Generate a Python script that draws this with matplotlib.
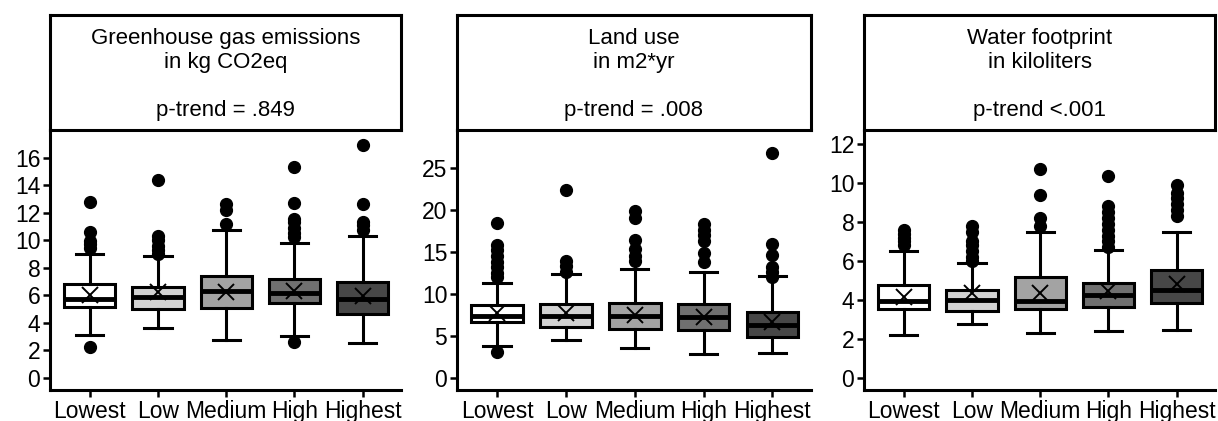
import numpy as np
import matplotlib
matplotlib.use("Agg")
import matplotlib.pyplot as plt

plt.rcParams['font.family'] = ['Liberation Sans', 'DejaVu Sans']

categories = ['Lowest', 'Low', 'Medium', 'High', 'Highest']
box_colors = ['#ffffff', '#d2d2d2', '#a3a3a3', '#707070', '#474747']

titles = ['Greenhouse gas emissions\nin kg CO2eq', 'Land use\nin m2*yr', 'Water footprint\nin kiloliters']
ptrends = ['p-trend = .849', 'p-trend = .008', 'p-trend <.001']

# per panel: q1, median, q3, lower whisker, upper whisker, mean
ghg_q1 = [5.1, 5.0, 5.05, 5.45, 4.6]
ghg_med = [5.7, 5.85, 6.3, 6.15, 5.7]
ghg_q3 = [6.8, 6.6, 7.4, 7.2, 6.95]
ghg_lo = [3.1, 3.6, 2.75, 3.05, 2.5]
ghg_hi = [8.95, 8.85, 10.75, 9.75, 10.3]
ghg_mean = [6.0, 6.2, 6.25, 6.3, 5.95]
ghg_out = [[2.2, 9.4, 9.7, 9.9, 10.6, 12.8],
           [9.0, 9.3, 9.6, 10.0, 10.3, 14.4],
           [11.2, 12.2, 12.6],
           [2.6, 10.2, 10.5, 10.9, 11.3, 11.5, 12.7, 15.3],
           [10.7, 11.1, 11.3, 12.6, 16.9]]

land_q1 = [6.6, 6.0, 5.85, 5.7, 4.8]
land_med = [7.4, 7.35, 7.4, 7.25, 6.25]
land_q3 = [8.65, 8.75, 8.9, 8.8, 7.85]
land_lo = [3.75, 4.45, 3.5, 2.8, 3.0]
land_hi = [11.3, 12.4, 12.9, 12.6, 12.15]
land_mean = [7.7, 7.7, 7.5, 7.25, 6.6]
land_out = [[3.1, 12.0, 12.5, 13.2, 13.8, 14.5, 15.2, 15.8, 18.4],
            [12.6, 13.3, 13.9, 22.4],
            [13.9, 14.5, 15.3, 16.4, 19.0, 19.8],
            [13.8, 14.8, 16.3, 17.0, 17.6, 18.3],
            [12.0, 12.6, 13.2, 14.6, 15.9, 26.8]]

water_q1 = [3.55, 3.45, 3.55, 3.65, 3.85]
water_med = [3.95, 4.0, 3.95, 4.25, 4.5]
water_q3 = [4.75, 4.5, 5.2, 4.85, 5.55]
water_lo = [2.2, 2.8, 2.3, 2.4, 2.45]
water_hi = [6.5, 5.9, 7.5, 6.55, 7.5]
water_mean = [4.15, 4.35, 4.35, 4.45, 4.8]
water_out = [[6.8, 7.0, 7.2, 7.4, 7.6],
             [6.0, 6.2, 6.5, 6.8, 7.0, 7.5, 7.8],
             [7.8, 8.2, 9.4, 10.7],
             [6.7, 7.0, 7.3, 7.6, 7.9, 8.2, 8.5, 8.8, 10.35],
             [8.3, 8.6, 8.9, 9.2, 9.5, 9.9]]

panels = [
    (ghg_q1, ghg_med, ghg_q3, ghg_lo, ghg_hi, ghg_mean, ghg_out),
    (land_q1, land_med, land_q3, land_lo, land_hi, land_mean, land_out),
    (water_q1, water_med, water_q3, water_lo, water_hi, water_mean, water_out),
]
yticks = [np.arange(0, 17, 2), np.arange(0, 26, 5), np.arange(0, 13, 2)]
ylims = [(-0.9, 18.0), (-1.45, 29.5), (-0.6, 12.7)]

W, H = 1218, 421
fig = plt.figure(figsize=(W / 100, H / 100), dpi=100)

# panel pixel extents (left, right)
extents = [(50, 401), (457, 811), (864, 1215)]
ax_top, ax_bot, head_top = 130, 390, 15

for k, (x0, x1) in enumerate(extents):
    q1, med, q3, lo, hi, mean, out = panels[k]
    ax = fig.add_axes([x0 / W, (H - ax_bot) / H, (x1 - x0) / W, (ax_bot - ax_top) / H])
    stats = []
    for i in range(len(categories)):
        stats.append(dict(q1=q1[i], med=med[i], q3=q3[i], whislo=lo[i], whishi=hi[i],
                          mean=mean[i], fliers=out[i], label=categories[i]))
    bp = ax.bxp(stats, positions=range(1, 6), widths=0.75, capwidths=0.4,
                patch_artist=True, showmeans=True,
                boxprops=dict(linewidth=2.2, edgecolor='black'),
                medianprops=dict(color='black', linewidth=3.5),
                whiskerprops=dict(color='black', linewidth=2.2),
                capprops=dict(color='black', linewidth=2.2),
                meanprops=dict(marker='x', markeredgecolor='black', markersize=12,
                               markeredgewidth=1.4),
                flierprops=dict(marker='o', markerfacecolor='black', markeredgecolor='black',
                                markersize=8.5))
    for patch, c in zip(bp['boxes'], box_colors):
        patch.set_facecolor(c)
    ax.set_xlim(0.42, 5.56)
    ax.set_ylim(*ylims[k])
    ax.set_yticks(yticks[k])
    ax.spines['top'].set_visible(False)
    ax.spines['right'].set_visible(False)
    for s in ['left', 'bottom']:
        ax.spines[s].set_linewidth(2.2)
    ax.tick_params(axis='both', labelsize=16.5, width=1.8, length=5, color='black', pad=2)

    hax = fig.add_axes([x0 / W, (H - ax_top) / H, (x1 - x0) / W, (ax_top - head_top) / H])
    hax.set_xticks([])
    hax.set_yticks([])
    for s in hax.spines.values():
        s.set_linewidth(2.2)
    hax.text(0.5, 0.69, titles[k], ha='center', va='center', fontsize=16,
             linespacing=1.15, transform=hax.transAxes)
    hax.text(0.5, 0.17, ptrends[k], ha='center', va='center', fontsize=16,
             transform=hax.transAxes)

fig.savefig('out.png', dpi=100)
